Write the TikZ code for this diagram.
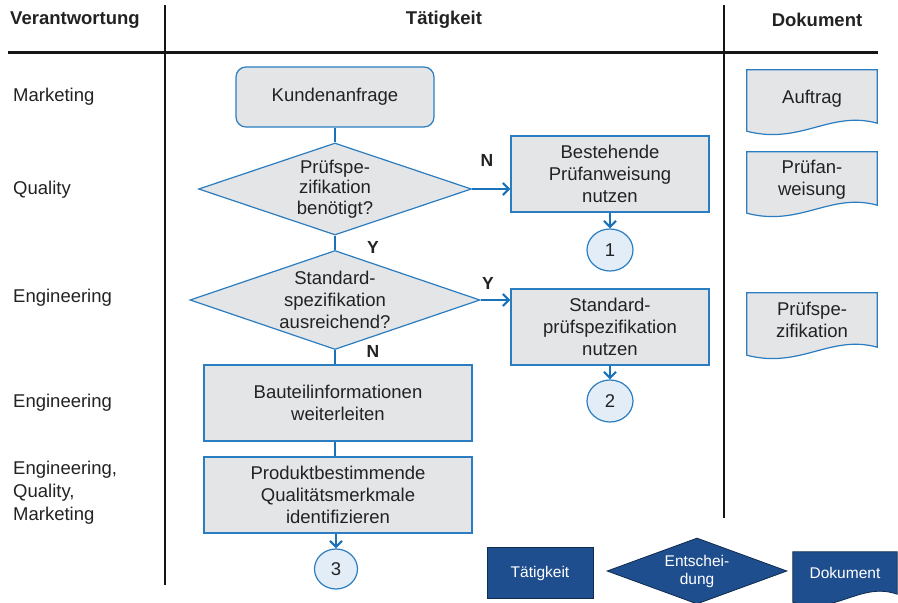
\documentclass[tikz,border=0pt]{standalone}
\usepackage{fontspec}
\setmainfont{Liberation Sans}
\usetikzlibrary{arrows.meta,shapes.geometric,calc,positioning}

\definecolor{boxgray}{HTML}{E4E5E7}
\definecolor{boxblue}{HTML}{2A7DC0}
\definecolor{arrblue}{HTML}{1B72B8}
\definecolor{circfill}{HTML}{E2EDF7}
\definecolor{navy}{HTML}{1F4E8E}
\definecolor{txt}{HTML}{222222}
\definecolor{rulecol}{HTML}{151515}

% document symbol: straight top and sides, wavy bottom
\newcommand\docpath[2]{\path[#2] (#1.north west) -- (#1.north east) -- (#1.south east)
  .. controls ($(#1.south east)!0.36!(#1.south west)+(0,-13)$) and ($(#1.south east)!0.59!(#1.south west)+(0,22)$) .. ($(#1.south west)+(0,8)$) -- cycle;}

\tikzset{
  every node/.style={font=\fontsize{18.5}{22}\selectfont, text=txt},
  head/.style={font=\bfseries\fontsize{18.5}{22}\selectfont},
  role/.style={anchor=west, align=left, inner xsep=0pt},
  actbox/.style={draw=boxblue, fill=boxgray, line width=1.2pt, minimum width=198pt, minimum height=76pt, align=center, inner sep=0pt},
  startbox/.style={actbox, rounded corners=10pt, minimum height=60pt},
  decision/.style={diamond, draw=boxblue, fill=boxgray, line width=1.2pt, inner sep=0pt},
  conn/.style={ellipse, draw=boxblue, fill=circfill, line width=1.2pt, minimum width=46pt, minimum height=42pt, inner sep=0pt},
  docbox/.style={minimum width=130pt, minimum height=53pt, align=center, inner sep=0pt},
  flow/.style={draw=arrblue, line width=2.6pt, -{Straight Barb[length=6pt,width=12pt,line width=2.2pt]}},
  link/.style={draw=arrblue, line width=1.8pt},
  yn/.style={font=\bfseries\fontsize{17.5}{20}\selectfont},
  legend/.style={fill=navy, draw=navy!55!black, line width=0.8pt, text=white, font=\fontsize{15.5}{18}\selectfont, align=center, inner sep=0pt},
}

\begin{document}
\begin{tikzpicture}[x=1pt,y=-1pt]
\useasboundingbox (0,0) rectangle (898,603);

% header and swimlane rules
\node[head] (hresp) at (75,20) {Verantwortung};
\node[head] (hact) at (444,20) {Tätigkeit};
\node[head] (hdoc) at (817,20) {Dokument};
\draw[rulecol, line width=3pt] (8,52) -- (878,52);
\draw[rulecol, line width=2.5pt] (165,5) -- (165,585);
\draw[rulecol, line width=2.5pt] (724,5) -- (724,518);

% responsibilities
\node[role] (r1) at (13,97) {Marketing};
\node[role] (r2) at (13,190) {Quality};
\node[role] (r3) at (13,298) {Engineering};
\node[role] (r4) at (13,403) {Engineering};
\node[role, font=\fontsize{18.5}{23}\selectfont] (r5) at (13,493) {Engineering,\\Quality,\\Marketing};

% flow
\node[startbox] (anfrage) at (335,97) {Kundenanfrage};
\node[decision, minimum width=273pt, minimum height=92pt] (d1) at (335,189) {};
\node[align=center, font=\fontsize{18.5}{20.5}\selectfont] (d1txt) at (d1) {Prüfspe-\\zifikation\\benötigt?};
\node[actbox] (bestehend) at (610,174) {Bestehende\\Prüfanweisung\\nutzen};
\node[conn] (c1) at (610,250) {1};

\node[decision, minimum width=290pt, minimum height=99pt] (d2) at (335,300) {};
\node[align=center, font=\fontsize{18.5}{22}\selectfont] (d2txt) at (d2) {Standard-\\spezifikation\\ausreichend?};
\node[actbox] (standard) at (610,327) {Standard-\\prüfspezifikation\\nutzen};
\node[conn] (c2) at (610,401) {2};

\node[actbox, minimum width=268pt] (bauteil) at (338,403) {Bauteilinformationen\\weiterleiten};
\node[actbox, minimum width=268pt] (produkt) at (338,495) {Produktbestimmende\\Qualitätsmerkmale\\identifizieren};
\node[conn, minimum width=43pt, minimum height=40pt] (c3) at (336,569) {3};

\draw[link] (anfrage.south -| d1.north) -- (d1.north);
\draw[flow] (d1.east) -- (d1.east -| bestehend.west);
\draw[flow] (bestehend.south) -- (c1.north);
\draw[link] (d1.south) -- (d2.north);
\draw[flow] (d2.east) -- (d2.east -| standard.west);
\draw[flow] (standard.south) -- (c2.north);
\draw[link] (d2.south) -- (d2.south |- bauteil.north);
\draw[link] (bauteil.south -| d2.south) -- (produkt.north -| d2.south);
\draw[flow] (produkt.south -| c3.north) -- (c3.north);

\node[yn] (n1) at (487,160) {N};
\node[yn] (y1) at (373,247) {Y};
\node[yn] (y2) at (488,283) {Y};
\node[yn] (n2) at (373,351) {N};

% documents
\node[docbox] (auftrag) at (812,96.5) {};
\node[docbox] (pruefanw) at (812,178.5) {};
\node[docbox, minimum height=54pt] (pruefspez) at (812,320) {};
\docpath{auftrag}{fill=boxgray, draw=boxblue, line width=1.2pt}
\docpath{pruefanw}{fill=boxgray, draw=boxblue, line width=1.2pt}
\docpath{pruefspez}{fill=boxgray, draw=boxblue, line width=1.2pt}
\node (auftragtxt) at ($(auftrag)+(0,2)$) {Auftrag};
\node[align=center] (pruefanwtxt) at ($(pruefanw)+(0,1)$) {Prüfan-\\weisung};
\node[align=center] (pruefspeztxt) at (pruefspez) {Prüfspe-\\zifikation};

% legend
\node[legend, minimum width=106pt, minimum height=51pt] (legact) at (540,573) {Tätigkeit};
\node[legend, diamond, minimum width=180pt, minimum height=66pt] (legdec) at (697,571) {};
\node[text=white, align=center, font=\fontsize{15.5}{18}\selectfont] (legdectxt) at (legdec) {Entschei-\\dung};
\node[minimum width=104pt, minimum height=42pt, inner sep=0pt] (legdoc) at (845,573) {};
\docpath{legdoc}{fill=navy, draw=navy!55!black, line width=0.8pt}
\node[text=white, font=\fontsize{15.5}{18}\selectfont] (legdoctxt) at (legdoc) {Dokument};
\end{tikzpicture}
\end{document}
